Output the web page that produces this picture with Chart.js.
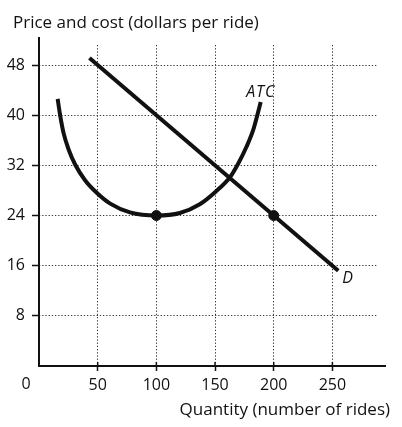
<!DOCTYPE html>
<html><head><meta charset="utf-8">
<script src="https://cdn.jsdelivr.net/npm/chart.js@4"></script>
<style>html,body{margin:0;padding:0;background:#fff}</style>
</head><body>
<canvas id="c" width="402" height="427"></canvas>
<script>
const xTicks = [0, 50, 100, 150, 200, 250];
const yTicks = [0, 8, 16, 24, 32, 40, 48];
const demandQ = [43, 255];
const demandP = [49.12, 15.2];
const atcQ = [15.9, 18.1, 21.0, 25.3, 30.9, 39.4, 49.4, 60.7, 77.5, 100, 120, 137, 150.5, 162.7, 169.8, 176.9, 182.6, 186, 188.9];
const atcP = [42.6, 39.9, 37.1, 34.5, 32.1, 29.6, 27.6, 25.9, 24.5, 24, 24.4, 25.8, 27.8, 30.1, 32.3, 35.0, 37.7, 40, 42.1];
const markQ = [100, 200];
const markP = [24, 24];
const yTitle = 'Price and cost (dollars per ride)';
const xTitle = 'Quantity (number of rides)';
const curveLabels = [{text: 'ATC', q: 189, p: 43.7}, {text: 'D', q: 263, p: 14.0}];

const FONT = '"Open Sans", Lato, sans-serif';
const INK = '#111';
const toXY = (xs, ys) => xs.map((x, i) => ({x, y: ys[i]}));

const extras = {
  id: 'extras',
  beforeDatasetsDraw(chart) {
    const {ctx, chartArea: a, scales: {x}} = chart;
    ctx.save();
    ctx.strokeStyle = INK;
    ctx.lineWidth = 2;
    ctx.setLineDash([]);
    ctx.beginPath();
    ctx.moveTo(a.left, a.top - 8);
    ctx.lineTo(a.left, a.bottom);
    ctx.lineTo(a.right + 9, a.bottom);
    ctx.stroke();
    // short tick stubs crossing above the x axis
    ctx.lineWidth = 1.5;
    ctx.beginPath();
    x.ticks.forEach(t => {
      if (t.value === 0) return;
      const px = x.getPixelForValue(t.value);
      ctx.moveTo(px, a.bottom - 4);
      ctx.lineTo(px, a.bottom);
    });
    ctx.stroke();
    ctx.restore();
  },
  afterDraw(chart) {
    const {ctx, chartArea: a, scales: {x, y}} = chart;
    ctx.save();
    ctx.fillStyle = INK;
    ctx.textBaseline = 'middle';
    ctx.font = '17px ' + FONT;
    ctx.textAlign = 'left';
    ctx.fillText(yTitle, 13, 23);
    ctx.textAlign = 'right';
    ctx.fillText(xTitle, a.right + 13, a.bottom + 44);
    ctx.font = '16px ' + FONT;
    ctx.textAlign = 'center';
    ctx.fillText('0', x.getPixelForValue(0) - 13, a.bottom + 18);
    ctx.font = 'italic 16px ' + FONT;
    curveLabels.forEach(l => {
      ctx.letterSpacing = l.text === 'ATC' ? '1px' : '0px';
      ctx.fillText(l.text, x.getPixelForValue(l.q), y.getPixelForValue(l.p));
    });
    ctx.restore();
  }
};

new Chart(document.getElementById('c'), {
  type: 'line',
  data: {
    datasets: [
      {data: toXY(demandQ, demandP), borderColor: INK, borderWidth: 4, pointRadius: 0, tension: 0, clip: false},
      {data: toXY(atcQ, atcP), borderColor: INK, borderWidth: 4, pointRadius: 0, cubicInterpolationMode: 'monotone', clip: false},
      {data: toXY(markQ, markP), showLine: false, pointRadius: 5, pointBackgroundColor: INK, pointBorderColor: INK, clip: false}
    ]
  },
  options: {
    responsive: false,
    animation: false,
    events: [],
    layout: {padding: {left: 0, top: 45, right: 25, bottom: 0}},
    plugins: {
      legend: {display: false},
      tooltip: {enabled: false},
      title: {display: false}
    },
    scales: {
      x: {
        type: 'linear', min: 0, max: 288,
        afterBuildTicks: s => { s.ticks = xTicks.map(v => ({value: v})); },
        afterFit: s => { s.height = 61; },
        ticks: {color: INK, font: {family: FONT, size: 16}, padding: 5, maxRotation: 0,
          callback: v => v === 0 ? '' : String(v)},
        grid: {color: c => c.tick && c.tick.value === 0 ? 'transparent' : '#333', lineWidth: 1,
          tickLength: 5, tickColor: c => c.tick && c.tick.value === 0 ? 'transparent' : INK, tickWidth: 1.5},
        border: {display: false, dash: [1.3, 1.9]}
      },
      y: {
        type: 'linear', min: 0, max: 51.2,
        afterBuildTicks: s => { s.ticks = yTicks.map(v => ({value: v})); },
        afterFit: s => { s.width = 39; },
        ticks: {color: INK, font: {family: FONT, size: 16}, padding: 7,
          callback: v => v === 0 ? '' : String(v)},
        grid: {color: c => c.tick && c.tick.value === 0 ? 'transparent' : '#333', lineWidth: 1,
          tickLength: 7, tickColor: c => c.tick && c.tick.value === 0 ? 'transparent' : INK, tickWidth: 1.5},
        border: {display: false, dash: [1.3, 1.9]}
      }
    }
  },
  plugins: [extras]
});
</script>
</body></html>
